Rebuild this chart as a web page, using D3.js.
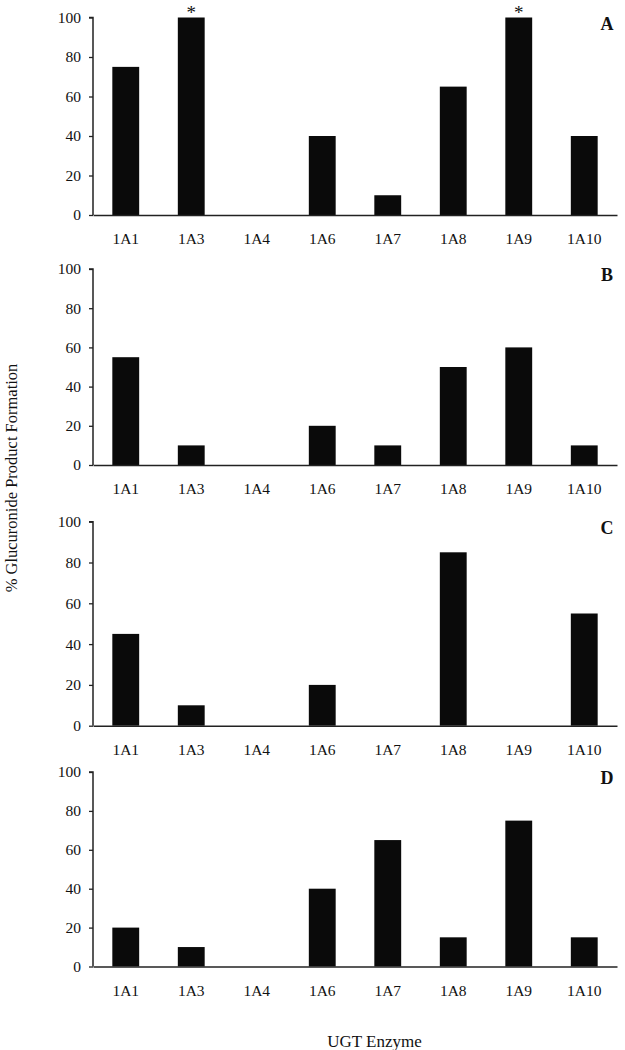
<!DOCTYPE html>
<html>
<head>
<meta charset="utf-8">
<script src="https://cdn.jsdelivr.net/npm/d3@7"></script>
<style>
  html, body { margin: 0; padding: 0; background: #fff; }
  svg { display: block; }
  text { font-family: "Liberation Serif", "Times New Roman", serif; fill: #111; }
</style>
</head>
<body>
<svg id="chart" width="625" height="1050"></svg>
<script>
// ---- Data ----
const categories = ["1A1", "1A3", "1A4", "1A6", "1A7", "1A8", "1A9", "1A10"];
const panelNames = ["A", "B", "C", "D"];
const valuesA = [75, 100, 0, 40, 10, 65, 100, 40];
const valuesB = [55, 10, 0, 20, 10, 50, 60, 10];
const valuesC = [45, 10, 0, 20, 0, 85, 0, 55];
const valuesD = [20, 10, 0, 40, 65, 15, 75, 15];
const significantA = ["1A3", "1A9"];
const yTicks = [0, 20, 40, 60, 80, 100];
const yTitle = "% Glucuronide Product Formation";
const xTitle = "UGT Enzyme";

const panelValues = [valuesA, valuesB, valuesC, valuesD];
const panelMarks = [significantA, [], [], []];

// ---- Layout ----
const svg = d3.select("#chart");
const left = 93, right = 617;
const panelBox = [
  { top: 17.5, bottom: 215 },
  { top: 269, bottom: 465 },
  { top: 521.7, bottom: 725.7 },
  { top: 772, bottom: 966.5 }
];

const x = d3.scaleBand().domain(categories).range([left, right]).padding(0);
const barW = x.step() * 0.41;

panelNames.forEach((name, i) => {
  const box = panelBox[i];
  const y = d3.scaleLinear().domain([0, 100]).range([box.bottom, box.top]);
  const g = svg.append("g");

  // bars
  const data = categories.map((c, k) => ({ c, v: panelValues[i][k] }));
  g.selectAll("rect.bar").data(data.filter(d => d.v > 0)).enter().append("rect")
    .attr("class", "bar")
    .attr("x", d => x(d.c) + x.step() / 2 - barW / 2)
    .attr("width", barW)
    .attr("y", d => y(d.v))
    .attr("height", d => y(0) - y(d.v))
    .attr("fill", "#0a0a0a");

  // y axis
  const yAxis = d3.axisLeft(y).tickValues(yTicks).tickSize(4).tickPadding(8);
  const ya = g.append("g").attr("transform", `translate(${left},0)`).call(yAxis);
  ya.select(".domain").attr("stroke", "#222").attr("stroke-width", 1.5)
    .attr("d", `M-4,${y(100)}H0V${y(0)}`);
  ya.selectAll(".tick line").attr("stroke", "#222").attr("stroke-width", 1.3);
  ya.selectAll(".tick text")
    .style("font-family", "'Liberation Serif', serif")
    .style("font-size", "15.5px").attr("fill", "#111");

  // x axis (baseline + labels)
  const xAxis = d3.axisBottom(x).tickSize(0).tickPadding(18);
  const xa = g.append("g").attr("transform", `translate(0,${y(0)})`).call(xAxis);
  xa.select(".domain").attr("stroke", "#222").attr("stroke-width", 1.5);
  xa.selectAll(".tick text")
    .style("font-family", "'Liberation Serif', serif")
    .style("font-size", "15.5px").attr("fill", "#111");

  // significance markers
  g.selectAll("text.star").data(panelMarks[i]).enter().append("text")
    .attr("class", "star")
    .attr("x", d => x(d) + x.step() / 2)
    .attr("y", y(100) + 1)
    .attr("text-anchor", "middle")
    .style("font-size", "19px")
    .text("*");

  // panel letter
  g.append("text")
    .attr("x", 607)
    .attr("y", box.top + 12)
    .attr("text-anchor", "middle")
    .style("font-size", "18px")
    .style("font-weight", "bold")
    .text(name);
});

// axis titles
svg.append("text")
  .attr("transform", "translate(17,478) rotate(-90)")
  .attr("text-anchor", "middle")
  .style("font-size", "16.5px")
  .text(yTitle);

svg.append("text")
  .attr("x", 374.5)
  .attr("y", 1047)
  .attr("text-anchor", "middle")
  .style("font-size", "17px")
  .text(xTitle);
</script>
</body>
</html>
